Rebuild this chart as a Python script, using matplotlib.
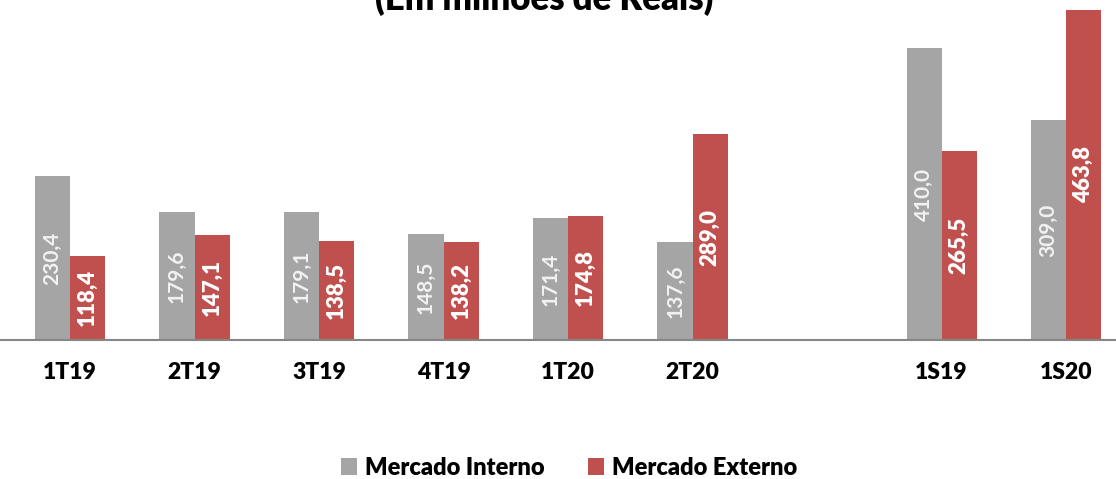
import matplotlib.pyplot as plt
import numpy as np

categories = ["1T19", "2T19", "3T19", "4T19", "1T20", "2T20", "1S19", "1S20"]
interno = [230.4, 179.6, 179.1, 148.5, 171.4, 137.6, 410.0, 309.0]
externo = [118.4, 147.1, 138.5, 138.2, 174.8, 289.0, 265.5, 463.8]
positions = [0, 1, 2, 3, 4, 5, 7, 8]

plt.rcParams['font.family'] = ['Lato', 'DejaVu Sans']

fig = plt.figure(figsize=(11.16, 4.79), dpi=100)
ax = fig.add_axes([0, 1 - 340 / 479, 1, 340 / 479])

x = np.array(positions, dtype=float)
w = 0.282
b1 = ax.bar(x - w / 2, interno, w, color="#A5A5A5", label="Mercado Interno")
b2 = ax.bar(x + w / 2, externo, w, color="#C0504D", label="Mercado Externo")

def fmt(v):
    return f"{v:.1f}".replace(".", ",")

for bars, vals, wt, fs, col in [(b1, interno, 'bold', 15, '#F2F2F2'),
                                (b2, externo, 'heavy', 16, 'white')]:
    for r, v in zip(bars, vals):
        ax.text(r.get_x() + r.get_width() / 2, v / 2, fmt(v), rotation=90,
                ha='center', va='center', color=col, fontsize=fs,
                fontweight=wt)

ax.set_xlim(-0.562, 8.40)
ax.set_ylim(0, 477.5)
ax.set_xticks(x)
ax.set_xticklabels(categories, fontsize=16.5, fontweight='heavy')
ax.tick_params(axis='x', length=0, pad=16)
ax.set_yticks([])
for s in ['top', 'left', 'right']:
    ax.spines[s].set_visible(False)
ax.spines['bottom'].set_color('#868686')
ax.spines['bottom'].set_linewidth(1.5)

fig.text(0.488, 1 - 10 / 479, "(Em milhões de Reais)", ha='center',
         va='baseline', fontsize=25, fontweight='heavy')

fig.legend(handles=[b1, b2], loc='center', bbox_to_anchor=(0.51, 0.023),
           ncol=2, frameon=False, prop={'size': 17, 'weight': 'heavy'},
           handlelength=0.7, handleheight=0.7, handletextpad=0.35,
           columnspacing=1.8)

fig.savefig("out.png", dpi=100)
